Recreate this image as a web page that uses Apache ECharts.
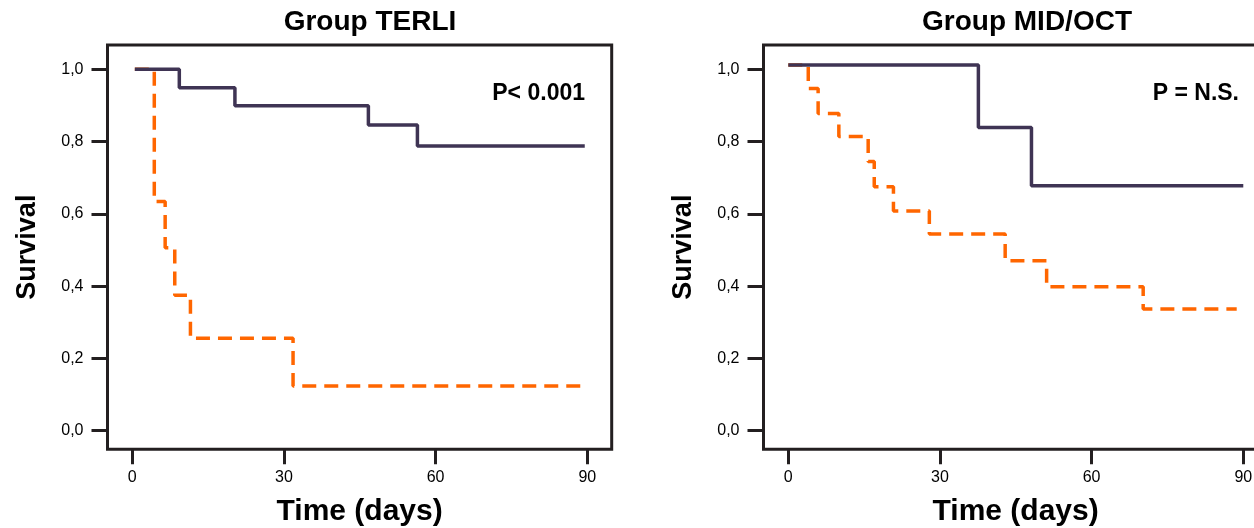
<!DOCTYPE html>
<html>
<head>
<meta charset="utf-8">
<script src="https://cdn.jsdelivr.net/npm/echarts@6/dist/echarts.min.js"></script>
<style>html,body{margin:0;padding:0;background:#fff;overflow:hidden}#c{width:1254px;height:528px}</style>
</head>
<body>
<div id="c"></div>
<script>
// ---- data ----
const titles = ['Group TERLI', 'Group MID/OCT'];
const pLabels = ['P< 0.001', 'P = N.S.'];
const xTickValues = [0, 30, 60, 90];
const yTickValues = [0, 0.2, 0.4, 0.6, 0.8, 1.0];

// TERLI panel
const terliSolidTime = [0.5, 9.3, 20.3, 46.7, 56.4, 89.5];
const terliSolidSurv = [1.0, 0.949, 0.899, 0.846, 0.788, 0.788];
const terliDashTime = [0.5, 4.35, 6.5, 8.4, 11.5, 31.8, 90];
const terliDashSurv = [1.0, 0.634, 0.506, 0.375, 0.256, 0.124, 0.124];

// MID/OCT panel
const midSolidTime = [0, 37.6, 48.1, 90];
const midSolidSurv = [1.012, 0.839, 0.678, 0.678];
const midDashTime = [0, 3.95, 5.9, 10.0, 15.8, 17.0, 20.8, 27.9, 42.9, 51.1, 70.2, 88.7];
const midDashSurv = [1.012, 0.947, 0.878, 0.814, 0.745, 0.675, 0.608, 0.544, 0.470, 0.398, 0.337, 0.337];

// ---- chart ----
const FONT = "'Liberation Sans', Arial, sans-serif";
const DARK = '#231f20';
const PURPLE = '#3f3454';
const ORANGE = '#ff6600';

function pairs(t, s) { return t.map((v, i) => [v, s[i]]); }

const grids = [
  { left: 107.5, width: 504.2, top: 45, height: 404.3 },
  { left: 763.5, width: 504.2, top: 45, height: 404.3 }
].map(g => Object.assign(g, { show: true, borderColor: DARK, borderWidth: 3, backgroundColor: 'transparent',
  containLabel: false, outerBoundsMode: 'none' }));

function xAxisFor(i) {
  return {
    type: 'value', gridIndex: i, min: -4.905, max: 94.83, position: 'bottom',
    splitLine: { show: false },
    axisLine: { show: false, onZero: false },
    axisTick: { show: true, customValues: xTickValues, length: 15, inside: false, lineStyle: { color: DARK, width: 3 } },
    axisLabel: { show: true, customValues: xTickValues, margin: 20, fontSize: 16, color: '#000', fontFamily: FONT },
    name: 'Time (days)', nameLocation: 'middle', nameGap: 47,
    nameTextStyle: { fontSize: 30, fontWeight: 'bold', color: '#000', fontFamily: FONT }
  };
}
function yAxisFor(i) {
  return {
    type: 'value', gridIndex: i, min: -0.0515, max: 1.0673, position: 'left',
    splitLine: { show: false },
    axisLine: { show: false, onZero: false },
    axisTick: { show: true, customValues: yTickValues, length: 16, inside: false, lineStyle: { color: DARK, width: 3 } },
    axisLabel: { show: true, customValues: yTickValues, margin: 24, fontSize: 16, color: '#000', fontFamily: FONT,
      formatter: v => v.toFixed(1).replace('.', ',') },
    name: 'Survival', nameLocation: 'middle', nameGap: 66, nameRotate: 90,
    nameTextStyle: { fontSize: 27, fontWeight: 'bold', color: '#000', fontFamily: FONT }
  };
}

function lineSeries(i, data, dashed) {
  return {
    type: 'line', xAxisIndex: i, yAxisIndex: i, data: data, step: 'end',
    symbol: 'none', silent: true, z: dashed ? 2 : 3,
    lineStyle: { color: dashed ? ORANGE : PURPLE, width: 3.5, type: dashed ? [14, 8] : 'solid', cap: 'butt' }
  };
}

const titleCenters = [370, 1027];
const pRight = [585, 1239];

const graphics = [];
titles.forEach((t, i) => graphics.push({
  type: 'text', x: titleCenters[i], y: 22,
  style: { text: t, font: 'bold 28px ' + FONT, fill: '#000', textAlign: 'center', textVerticalAlign: 'middle' }
}));
pLabels.forEach((t, i) => graphics.push({
  type: 'text', x: pRight[i], y: 94,
  style: { text: t, font: 'bold 23px ' + FONT, fill: '#000', textAlign: 'right', textVerticalAlign: 'middle' }
}));

const chart = echarts.init(document.getElementById('c'), null, { renderer: 'canvas' });
chart.setOption({
  animation: false,
  backgroundColor: '#fff',
  grid: grids,
  xAxis: [xAxisFor(0), xAxisFor(1)],
  yAxis: [yAxisFor(0), yAxisFor(1)],
  series: [
    lineSeries(0, pairs(terliDashTime, terliDashSurv), true),
    lineSeries(0, pairs(terliSolidTime, terliSolidSurv), false),
    lineSeries(1, pairs(midDashTime, midDashSurv), true),
    lineSeries(1, pairs(midSolidTime, midSolidSurv), false)
  ],
  graphic: graphics
});
</script>
</body>
</html>
